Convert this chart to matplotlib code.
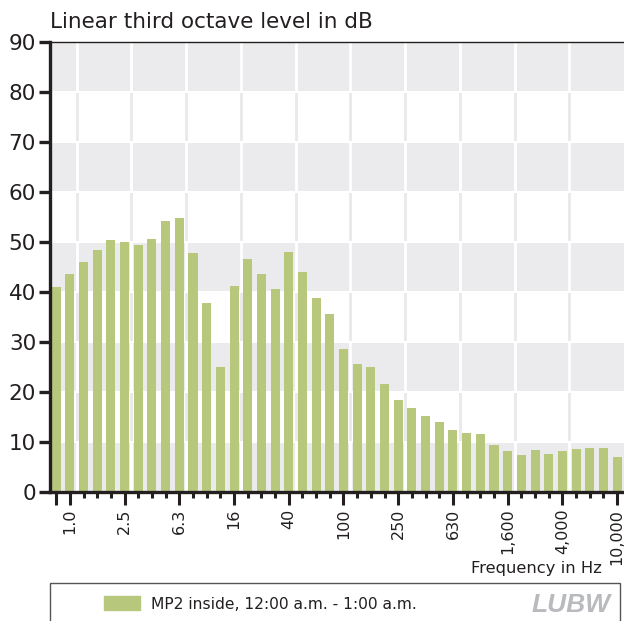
import numpy as np
import matplotlib
matplotlib.use("Agg")
import matplotlib.pyplot as plt
from matplotlib.patches import Rectangle, Patch

# third octave band centre frequencies, 0.8 Hz .. 10 kHz
bands = ['0.8', '1.0', '1.25', '1.6', '2.0', '2.5', '3.15', '4.0', '5.0', '6.3',
         '8.0', '10', '12.5', '16', '20', '25', '31.5', '40', '50', '63',
         '80', '100', '125', '160', '200', '250', '315', '400', '500', '630',
         '800', '1,000', '1,250', '1,600', '2,000', '2,500', '3,150', '4,000', '5,000', '6,300',
         '8,000', '10,000']
level = [41.0, 43.6, 46.0, 48.4, 50.4, 50.0, 49.4, 50.6, 54.2, 54.8,
         47.8, 37.8, 25.1, 41.2, 46.6, 43.6, 40.6, 48.0, 44.0, 38.8,
         35.6, 28.6, 25.6, 25.0, 21.6, 18.4, 16.8, 15.2, 14.0, 12.4,
         11.8, 11.6, 9.4, 8.2, 7.4, 8.4, 7.6, 8.2, 8.6, 8.8,
         8.8, 7.0]
labelled = ['1.0', '2.5', '6.3', '16', '40', '100', '250', '630', '1,600', '4,000', '10,000']
series_name = "MP2 inside, 12:00 a.m. - 1:00 a.m."

bar_color = '#b7c87d'
band_grey = '#ebebed'
ink = '#231f20'
plt.rcParams['font.family'] = 'DejaVu Sans'

fig = plt.figure(figsize=(6.24, 6.21), dpi=100)
W, H = 624.0, 621.0
ax = fig.add_axes([50 / W, 1 - 492 / H, (624 - 50) / W, 450 / H])

x = np.arange(len(bands))
ax.set_xlim(-0.45, len(bands) - 0.5)
ax.set_ylim(0, 90)

# background bands and grid
yt = np.arange(0, 91, 10)
lab_idx = [bands.index(l) for l in labelled]
grid_x = [i + 0.5 for i in lab_idx if i + 0.5 < len(bands) - 0.5]
for k, y0 in enumerate(yt[:-1]):
    if k % 2 == 0:
        ax.axhspan(y0, y0 + 10, color=band_grey, lw=0, zorder=0)
        ax.vlines(grid_x, y0, y0 + 10, color='white', lw=2, zorder=0.5)
    else:
        ax.vlines(grid_x, y0, y0 + 10, color='#e9e9e9', lw=2, zorder=0.5)
for y in yt[1:-1]:
    ax.axhline(y, color='white', lw=1.5, zorder=0.6)

ax.bar(x, level, width=0.66, color=bar_color, zorder=2)

# spines
for s in ['left', 'bottom']:
    ax.spines[s].set_linewidth(2.4)
    ax.spines[s].set_color(ink)
ax.spines['top'].set_linewidth(1.0)
ax.spines['top'].set_color(ink)
ax.spines['right'].set_visible(False)

ax.set_yticks(yt)
ax.set_yticklabels([str(v) for v in yt], fontsize=15.5, color=ink)
ax.tick_params(axis='y', direction='out', length=8, width=2.4, color=ink, pad=2)

major = [0] + lab_idx
ax.set_xticks(major)
ax.set_xticklabels([''] + labelled, rotation=90, fontsize=11.5, color=ink)
ax.set_xticks([i for i in x if i not in major], minor=True)
ax.tick_params(axis='x', which='major', direction='out', length=9, width=2.2, color=ink, pad=3)
ax.tick_params(axis='x', which='minor', direction='out', length=4, width=2.2, color=ink)

fig.text(50 / W, 1 - 22 / H, "Linear third octave level in dB", fontsize=15.5,
         color=ink, ha='left', va='center')
fig.text(602 / W, 1 - 569 / H, "Frequency in Hz", fontsize=11.8,
         color=ink, ha='right', va='center')

# legend box
fig.patches.append(Rectangle((50 / W, -0.05), 570 / W, 38 / H + 0.05, transform=fig.transFigure,
                             fill=False, edgecolor='#555555', lw=1.0, clip_on=False))
fig.legend(handles=[Patch(color=bar_color, label=series_name)], loc='center left',
           bbox_to_anchor=(93 / W, 1 - 604 / H), frameon=False, fontsize=11.2,
           handlelength=2.3, handleheight=1.0, handletextpad=0.7,
           labelcolor=ink, borderpad=0.2)
fig.text(611 / W, 1 - 605 / H, "LUBW", fontsize=19, fontweight='bold', style='italic',
         family='Liberation Sans', color='#b8babd', ha='right', va='center')

fig.savefig('out.png', dpi=100)
